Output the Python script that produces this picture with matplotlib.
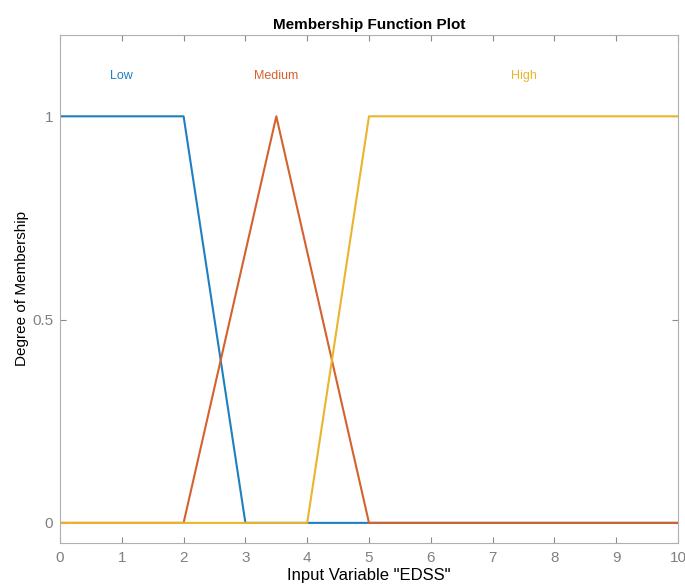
import matplotlib
matplotlib.use("Agg")
import matplotlib.pyplot as plt

plt.rcParams['font.family'] = ['Liberation Sans', 'DejaVu Sans']

# Data
x_low = [0, 2, 3, 10]
y_low = [1, 1, 0, 0]
x_med = [0, 2, 3.5, 5, 10]
y_med = [0, 0, 1, 0, 0]
x_high = [0, 4, 5, 10]
y_high = [0, 0, 1, 1]
labels = ["Low", "Medium", "High"]
label_x = [1.0, 3.5, 7.5]
label_y = 1.1
xticks = list(range(0, 11))
yticks = [0, 0.5, 1]
ytick_labels = ["0", "0.5", "1"]

colors = ["#1f7fc0", "#d4622e", "#e9b52c"]

fig = plt.figure(figsize=(6.85, 5.86), dpi=100)
ax = fig.add_axes([60/685, 1-543/586, (678-60)/685, (543-35)/586])

ax.plot(x_low, y_low, color=colors[0], lw=1.5)
ax.plot(x_med, y_med, color=colors[1], lw=1.5)
ax.plot(x_high, y_high, color=colors[2], lw=1.5)

for lab, lx, c in zip(labels, label_x, colors):
    ax.text(lx, label_y, lab, color=c, ha='center', va='center', fontsize=9)

ax.set_xlim(0, 10)
ax.set_ylim(-0.0495, 1.2)
ax.set_xticks(xticks)
ax.set_yticks(yticks)
ax.set_yticklabels(ytick_labels)
ax.tick_params(direction='in', colors='#8a8a8a', labelcolor='#808080', labelsize=11,
               top=True, right=True, length=4, width=0.8)
ax.tick_params(axis='x', pad=6)
ax.tick_params(axis='y', pad=5)
for s in ax.spines.values():
    s.set_color('#b0b0b0')
    s.set_linewidth(0.8)

ax.set_title("Membership Function Plot", fontsize=11, fontweight='bold', pad=4)
ax.set_xlabel('Input Variable "EDSS"', fontsize=12, labelpad=2)
ax.set_ylabel('Degree of Membership', fontsize=11, labelpad=2)

fig.savefig("out.png", dpi=100, facecolor='white')
